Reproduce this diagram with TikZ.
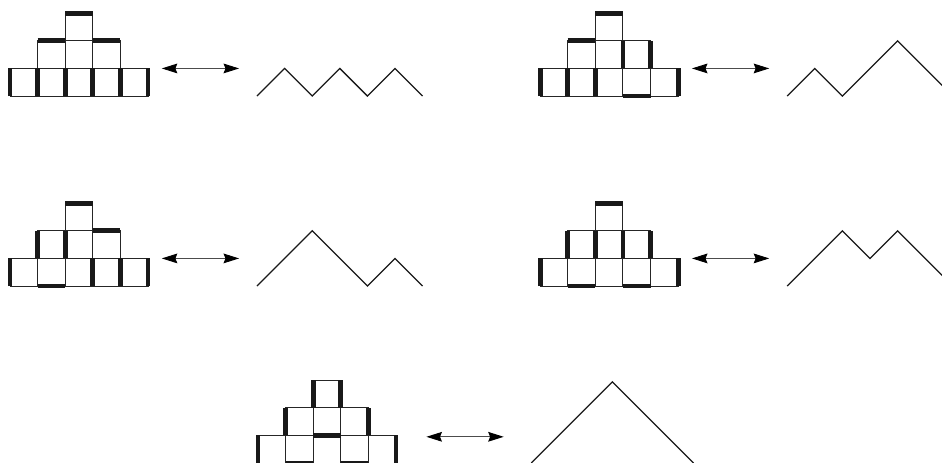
\documentclass[tikz,border=0pt]{standalone}
\usepackage{tikz}
\usetikzlibrary{arrows.meta,calc}
\pgfdeclarelayer{background}
\pgfdeclarelayer{foreground}
\pgfsetlayers{background,main,foreground}

% the staircase of nine squares, thin lines
\newcommand{\stairs}{%
\begin{pgfonlayer}{background}
\foreach \x in {0,...,4} \draw [cell] (\x,0) rectangle +(1,1);
\foreach \x in {1,...,3} \draw [cell] (\x,1) rectangle +(1,1);
\draw [cell] (2,2) rectangle +(1,1);
\end{pgfonlayer}}

\begin{document}
\begin{tikzpicture}[
  cell/.style={draw=black!85, line width=1pt},
  bar/.style={draw=black!90, line width=5pt},
  dyck/.style={draw=black!90, line width=1.3pt, line join=miter},
  link/.style={{Stealth[length=16pt,width=10pt,inset=2pt,black]}-{Stealth[length=16pt,width=10pt,inset=2pt,black]}, draw=black!70, line width=1pt}]

\useasboundingbox (0,0) rectangle (34.13,16.74);

% top left
\begin{scope}[shift={(0.362,13.26)}]
\stairs
\begin{pgfonlayer}{foreground}
\draw [bar] (2,3) -- (3,3);
\draw [bar] (1,2) -- (2,2);
\draw [bar] (3,2) -- (4,2);
\foreach \x in {0,...,5} \draw [bar] (\x,0) -- (\x,1);
\end{pgfonlayer}
\coordinate (l1) at (5.5,1);
\coordinate (r1) at (8.3,1);
\draw [link] (l1) -- (r1);
\draw [dyck] (8.95,0) -- ++(1,1) -- ++(1,-1) -- ++(1,1) -- ++(1,-1) -- ++(1,1) -- ++(1,-1);
\end{scope}

% top right
\begin{scope}[shift={(19.57,13.26)}]
\stairs
\begin{pgfonlayer}{foreground}
\draw [bar] (2,3) -- (3,3);
\draw [bar] (1,2) -- (2,2);
\draw [bar] (3,0) -- (4,0);
\foreach \x in {3,4} \draw [bar] (\x,1) -- (\x,2);
\foreach \x in {0,1,2,5} \draw [bar] (\x,0) -- (\x,1);
\end{pgfonlayer}
\coordinate (l2) at (5.5,1);
\coordinate (r2) at (8.3,1);
\draw [link] (l2) -- (r2);
\draw [dyck] (8.95,0) -- ++(1,1) -- ++(1,-1) -- ++(1,1) -- ++(1,1) -- ++(1,-1) -- ++(1,-1);
\end{scope}

% middle left
\begin{scope}[shift={(0.362,6.377)}]
\stairs
\begin{pgfonlayer}{foreground}
\draw [bar] (2,3) -- (3,3);
\draw [bar] (3,2) -- (4,2);
\draw [bar] (1,0) -- (2,0);
\foreach \x in {1,2} \draw [bar] (\x,1) -- (\x,2);
\foreach \x in {0,3,4,5} \draw [bar] (\x,0) -- (\x,1);
\end{pgfonlayer}
\coordinate (l3) at (5.5,1);
\coordinate (r3) at (8.3,1);
\draw [link] (l3) -- (r3);
\draw [dyck] (8.95,0) -- ++(1,1) -- ++(1,1) -- ++(1,-1) -- ++(1,-1) -- ++(1,1) -- ++(1,-1);
\end{scope}

% middle right
\begin{scope}[shift={(19.57,6.377)}]
\stairs
\begin{pgfonlayer}{foreground}
\draw [bar] (2,3) -- (3,3);
\draw [bar] (1,0) -- (2,0);
\draw [bar] (3,0) -- (4,0);
\foreach \x in {1,...,4} \draw [bar] (\x,1) -- (\x,2);
\foreach \x in {0,5} \draw [bar] (\x,0) -- (\x,1);
\end{pgfonlayer}
\coordinate (l4) at (5.5,1);
\coordinate (r4) at (8.3,1);
\draw [link] (l4) -- (r4);
\draw [dyck] (8.95,0) -- ++(1,1) -- ++(1,1) -- ++(1,-1) -- ++(1,1) -- ++(1,-1) -- ++(1,-1);
\end{scope}

% bottom
\begin{scope}[shift={(9.35,-0.036)}]
\stairs
\begin{pgfonlayer}{foreground}
\draw [bar] (2,1) -- (3,1);
\draw [bar] (1,0) -- (2,0);
\draw [bar] (3,0) -- (4,0);
\foreach \x in {2,3} \draw [bar] (\x,2) -- (\x,3);
\foreach \x in {1,4} \draw [bar] (\x,1) -- (\x,2);
\foreach \x in {0,5} \draw [bar] (\x,0) -- (\x,1);
\end{pgfonlayer}
\coordinate (l5) at (6.1,0.95);
\coordinate (r5) at (8.9,0.95);
\draw [link] (l5) -- (r5);
\draw [dyck] (9.9,0) -- ++(0.98,0.98) -- ++(0.98,0.98) -- ++(0.98,0.98) -- ++(0.98,-0.98) -- ++(0.98,-0.98) -- ++(0.98,-0.98);
\end{scope}

\end{tikzpicture}
\end{document}
